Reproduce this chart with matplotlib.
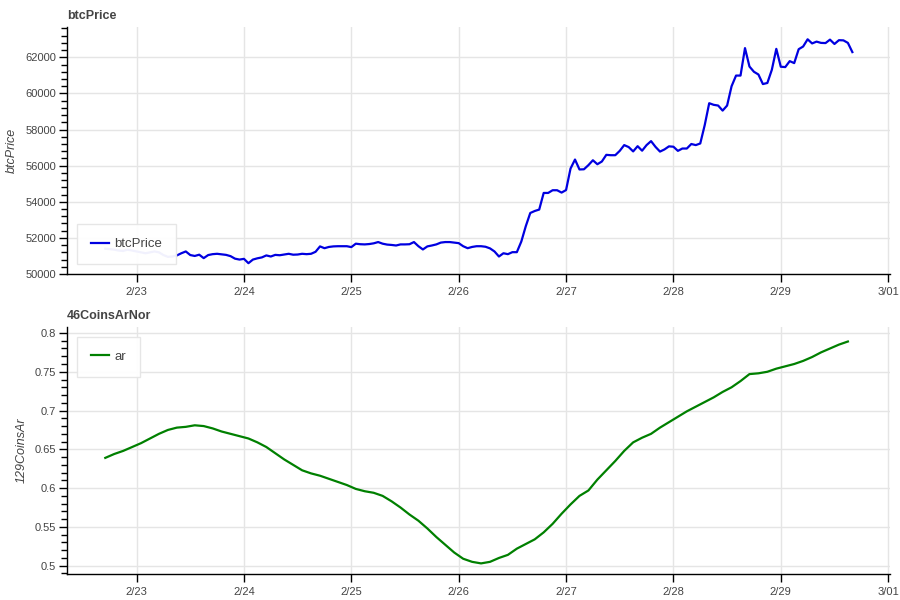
import numpy as np
import pandas as pd
import matplotlib
matplotlib.use('Agg')
import matplotlib.pyplot as plt
import matplotlib.dates as mdates
from matplotlib.ticker import MultipleLocator, AutoMinorLocator, FuncFormatter

plt.rcParams['font.family'] = ['Liberation Sans', 'DejaVu Sans']

# hourly btc price, 2/22 17:00 -> 2/29 16:00
btc_times = pd.date_range('2024-02-22 17:00', periods=168, freq='h')
btc_price = [
    51400, 51380, 51350, 51300, 51280, 51350, 51300, 51250, 51200, 51150,
    51200, 51250, 51200, 51050, 50950, 50970, 51030, 51150, 51250, 51050,
    51000, 51070, 50880, 51050, 51100, 51120, 51090, 51060, 50990, 50850,
    50800, 50840, 50600, 50800, 50870, 50920, 51030, 50970, 51060, 51040,
    51080, 51120, 51070, 51080, 51120, 51100, 51120, 51230, 51530, 51430,
    51500, 51530, 51540, 51540, 51540, 51490, 51680, 51650, 51640, 51660,
    51700, 51770, 51680, 51630, 51610, 51580, 51640, 51640, 51650, 51770,
    51540, 51360, 51530, 51580, 51640, 51740, 51770, 51770, 51740, 51710,
    51540, 51430, 51500, 51540, 51540, 51510, 51420, 51250, 50970, 51150,
    51100, 51210, 51210, 51800, 52650, 53380, 53490, 53570, 54490, 54490,
    54640, 54640, 54510, 54650, 55840, 56340, 55790, 55800, 56030, 56300,
    56080, 56230, 56600, 56580, 56580, 56820, 57140, 57030, 56790, 57080,
    56830, 57140, 57360, 57040, 56780, 56900, 57070, 57050, 56820, 56950,
    56950, 57200, 57140, 57230, 58250, 59460, 59370, 59330, 59050, 59330,
    60400, 60990, 60990, 62510, 61490, 61200, 61050, 60520, 60580, 61310,
    62470, 61480, 61460, 61790, 61680, 62450, 62600, 63000, 62770, 62870,
    62800, 62790, 62980, 62740, 62950, 62940, 62800, 62290,
]

# 2-hourly ar indicator
ar_times = pd.date_range('2024-02-22 17:00', periods=84, freq='2h')
ar_values = [
    0.639, 0.644, 0.648, 0.653, 0.658, 0.664, 0.670, 0.675, 0.678, 0.679,
    0.681, 0.680, 0.677, 0.673, 0.670, 0.667, 0.664, 0.659, 0.653, 0.645,
    0.637, 0.630, 0.623, 0.619, 0.616, 0.612, 0.608, 0.604, 0.599, 0.596,
    0.594, 0.590, 0.583, 0.575, 0.566, 0.558, 0.548, 0.537, 0.527, 0.517,
    0.509, 0.505, 0.503, 0.505, 0.510, 0.514, 0.522, 0.528, 0.534, 0.543,
    0.554, 0.567, 0.579, 0.590, 0.597, 0.611, 0.623, 0.635, 0.648, 0.659,
    0.665, 0.670, 0.678, 0.685, 0.692, 0.699, 0.705, 0.711, 0.717, 0.724,
    0.730, 0.738, 0.747, 0.748, 0.750, 0.754, 0.757, 0.760, 0.764, 0.769,
    0.775, 0.780, 0.785, 0.789,
]

x_range = (pd.Timestamp('2024-02-22 08:26'), pd.Timestamp('2024-03-01 00:25'))
text_col = '#444444'
grid_col = '#e5e5e5'


def style_axes(ax):
    for s in ['top', 'right']:
        ax.spines[s].set_visible(False)
    for s in ['left', 'bottom']:
        ax.spines[s].set_linewidth(1.0)
        ax.spines[s].set_color('black')
    ax.grid(True, color=grid_col, linewidth=1.0)
    ax.set_axisbelow(True)
    ax.xaxis.set_major_locator(mdates.DayLocator())
    ax.xaxis.set_major_formatter(FuncFormatter(
        lambda v, p: '{}/{:02d}'.format(mdates.num2date(v).month, mdates.num2date(v).day)))
    ax.set_xlim(x_range)
    ax.tick_params(axis='both', which='major', length=6, width=1, colors='black',
                   labelcolor=text_col, labelsize=8)
    ax.tick_params(axis='x', pad=3)
    ax.tick_params(axis='y', pad=2)
    ax.tick_params(axis='y', which='minor', length=4, width=1, colors='black')
    ax.yaxis.set_minor_locator(AutoMinorLocator(5))


def add_legend(ax, loc, anchor):
    leg = ax.legend(loc=loc, bbox_to_anchor=anchor, borderaxespad=0,
                    fancybox=False, edgecolor=grid_col, framealpha=0.95, fontsize=9.5,
                    handlelength=1.4, borderpad=1.05, handletextpad=0.4)
    leg.get_frame().set_linewidth(1.0)
    for t in leg.get_texts():
        t.set_color(text_col)
    return leg


fig = plt.figure(figsize=(9, 6), dpi=100)
ax1 = fig.add_axes([0.0744, 0.5433, 0.9145, 0.4117])
ax2 = fig.add_axes([0.0744, 0.0433, 0.9145, 0.4117])

# top: btc price
ax1.plot(btc_times, btc_price, color='#0000e0', linewidth=1.6, label='btcPrice')
style_axes(ax1)
ax1.set_ylim(50000, 63680)
ax1.yaxis.set_major_locator(MultipleLocator(2000))
ax1.set_title('btcPrice', loc='left', fontsize=9, fontweight='bold', color=text_col, pad=6)
ax1.set_ylabel('btcPrice', fontsize=9, fontstyle='italic', color=text_col, labelpad=5)
add_legend(ax1, 'lower left', (0.012, 0.04))

# bottom: ar
ax2.plot(ar_times, ar_values, color='green', linewidth=1.6, label='ar')
style_axes(ax2)
ax2.set_ylim(0.4893, 0.8077)
ax2.yaxis.set_major_locator(MultipleLocator(0.05))
ax2.yaxis.set_major_formatter(FuncFormatter(lambda v, p: '{:g}'.format(round(v, 2))))
ax2.set_title('46CoinsArNor', loc='left', fontsize=9, fontweight='bold', color=text_col, pad=6)
ax2.set_ylabel('129CoinsAr', fontsize=9, fontstyle='italic', color=text_col, labelpad=5)
add_legend(ax2, 'upper left', (0.012, 0.96))

fig.savefig('out.png', dpi=100)
